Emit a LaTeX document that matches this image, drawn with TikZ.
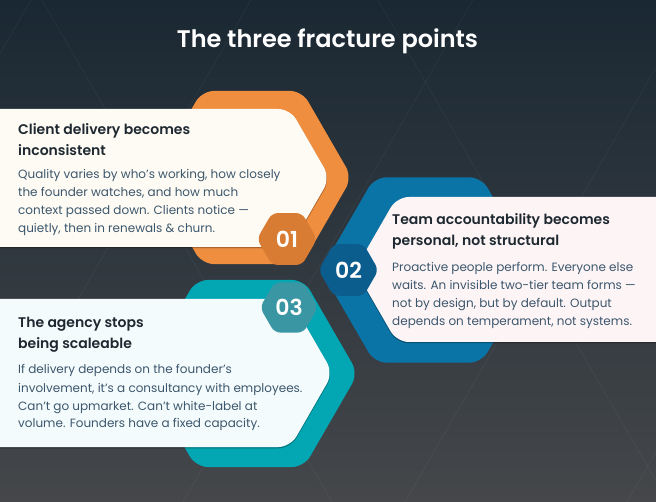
\documentclass[tikz,border=0pt]{standalone}
\usepackage{fontspec}
\setmainfont{Poppins}[BoldFont={Poppins SemiBold}]

\definecolor{cbgtop}{HTML}{1A2833}
\definecolor{cbgbot}{HTML}{45474A}
\definecolor{corange}{HTML}{F08E3F}
\definecolor{cblue}{HTML}{0B74A6}
\definecolor{cteal}{HTML}{03A7B4}
\definecolor{cnumA}{HTML}{D87B33}
\definecolor{cnumB}{HTML}{0B5D8E}
\definecolor{cnumC}{HTML}{3A96A2}
\definecolor{ccardA}{HTML}{FEFBF4}
\definecolor{ccardB}{HTML}{FDF4F5}
\definecolor{ccardC}{HTML}{F4FBFC}
\definecolor{chead}{HTML}{1E2830}
\definecolor{cbody}{HTML}{3C576D}

% hexagon, pointy left/right: centre x, centre y, radius
\newcommand{\hexpath}[3]{({#1},{#2-0.866*#3}) -- ({#1+0.5*#3},{#2-0.866*#3}) -- ({#1+#3},{#2}) -- ({#1+0.5*#3},{#2+0.866*#3}) -- ({#1-0.5*#3},{#2+0.866*#3}) -- ({#1-#3},{#2}) -- ({#1-0.5*#3},{#2-0.866*#3}) -- cycle}
% card pointing right / left: tip x, centre y, half height
\newcommand{\cardright}[3]{(-20,{#2-#3}) -- ({#1-0.577*#3},{#2-#3}) -- ({#1},{#2}) -- ({#1-0.577*#3},{#2+#3}) -- (-20,{#2+#3}) -- cycle}
\newcommand{\cardleft}[3]{(680,{#2-#3}) -- ({#1+0.577*#3},{#2-#3}) -- ({#1},{#2}) -- ({#1+0.577*#3},{#2+#3}) -- (680,{#2+#3}) -- cycle}

\begin{document}
\begin{tikzpicture}[
    x=1pt, y=-1pt,
    bgline/.style={white, opacity=0.05, line width=0.6pt},
    bighex/.style={fill=#1, rounded corners=12pt},
    numhex/.style={fill=#1, rounded corners=6pt},
    card/.style={fill=#1, rounded corners=12pt},
    cardshadow/.style={fill=black, draw=black, line width=1pt, opacity=0.18, yshift=-1pt, rounded corners=12pt},
    head/.style={font=\bfseries\fontsize{14}{16}\selectfont, text=chead, anchor=base west, inner sep=0pt},
    body/.style={font=\fontsize{12}{14}\selectfont, text=cbody, anchor=base west, inner sep=0pt},
    num/.style={font=\bfseries\fontsize{22}{24}\selectfont, text=white, inner sep=0pt},
]

\useasboundingbox (0,0) rectangle (656,502);
\clip (0,0) rectangle (656,502);

% Background
\shade[top color=cbgtop, bottom color=cbgbot] (0,0) rectangle (656,502);
\foreach \x in {-294,42,378,714} \draw[bgline] (\x,0) -- ++(290,502);
\foreach \x in {31,251,473,695,917} \draw[bgline] (\x,0) -- ++(-290,502);

% Title
\node[font=\bfseries\fontsize{24}{26}\selectfont, text=white, anchor=base, inner sep=0pt] (title) at (327.5,48) {The three fracture points};

% Big hexagons
\fill[bighex=corange] \hexpath{252}{177.5}{100};
\fill[bighex=cblue]   \hexpath{428}{270}{107};
\fill[bighex=cteal]   \hexpath{250}{373.5}{108};

% Cards
\fill[cardshadow] \cardright{330}{178}{69};
\fill[card=ccardA] \cardright{330}{178}{69};
\fill[cardshadow] \cardleft{355}{269.5}{72.5};
\fill[card=ccardB] \cardleft{355}{269.5}{72.5};
\fill[cardshadow] \cardright{333}{373}{74};
\fill[card=ccardC] \cardright{333}{373}{74};

% Number badges
\fill[numhex=cnumA] \hexpath{287}{239}{30};
\node[num] (n1) at (287,239) {01};
\fill[numhex=cnumB] \hexpath{348.5}{270}{30};
\node[num] (n2) at (348.5,270) {02};
\fill[numhex=cnumC] \hexpath{289}{307.5}{29};
\node[num] (n3) at (289,307.5) {03};

% --- Card 1 ---
\node[head] (ha1) at (18,135) {Client delivery becomes};
\node[head] (ha2) at (18,156) {inconsistent};
\foreach \t [count=\i] in {{Quality varies by who's working, how closely},{the founder watches, and how much},{context passed down. Clients notice —},{quietly, then in renewals \& churn.}}
    \node[body] (ba\i) at (18,{179+18*(\i-1)}) {\t};

% --- Card 2 ---
\node[head] (hb1) at (392,224.5) {Team accountability becomes};
\node[head] (hb2) at (392,245.5) {personal, not structural};
\foreach \t [count=\i] in {{Proactive people perform. Everyone else},{waits. An invisible two-tier team forms —},{not by design, but by default. Output},{depends on temperament, not systems.}}
    \node[body] (bb\i) at (392,{272+18*(\i-1)}) {\t};

% --- Card 3 ---
\node[head] (hc1) at (18,327.5) {The agency stops};
\node[head] (hc2) at (18,348.5) {being scaleable};
\foreach \t [count=\i] in {{If delivery depends on the founder's},{involvement, it's a consultancy with employees.},{Can't go upmarket. Can't white-label at},{volume. Founders have a fixed capacity.}}
    \node[body] (bc\i) at (18,{374+18*(\i-1)}) {\t};

\end{tikzpicture}
\end{document}
